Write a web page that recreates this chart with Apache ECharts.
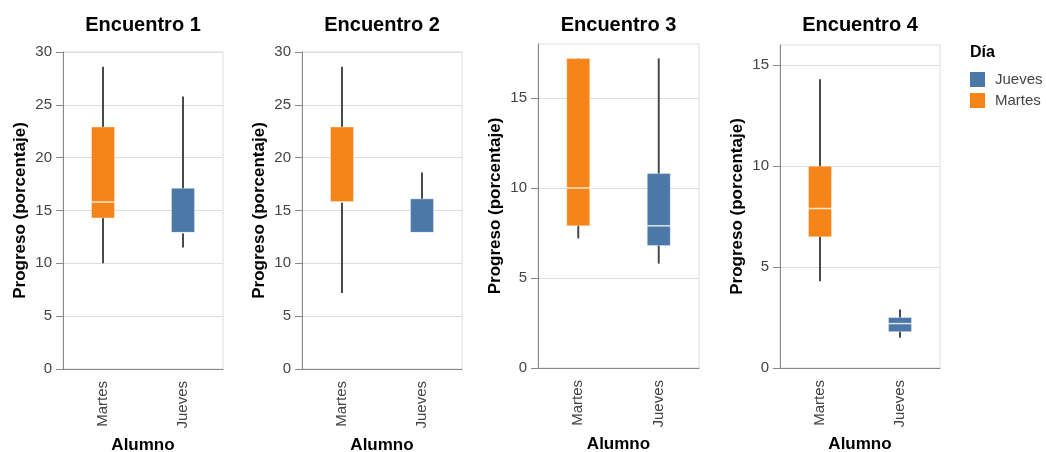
<!DOCTYPE html>
<html>
<head>
<meta charset="utf-8">
<script src="https://cdn.jsdelivr.net/npm/echarts@6/dist/echarts.min.js"></script>
<style>
html,body{margin:0;padding:0;background:#fff;}
#chart{width:1046px;height:452px;}
</style>
</head>
<body>
<div id="chart"></div>
<script>
// ---- Data ----
const encuentros = ['Encuentro 1', 'Encuentro 2', 'Encuentro 3', 'Encuentro 4'];
const categorias = ['Martes', 'Jueves'];
const dias = ['Jueves', 'Martes'];
// [min, Q1, median, Q3, max]
const martesStats = [
  [10.0, 14.3, 15.8, 22.9, 28.6],
  [7.2, 15.8, 15.8, 22.9, 28.6],
  [7.2, 7.9, 10.0, 17.2, 17.2],
  [4.3, 6.5, 7.9, 10.0, 14.3]
];
const juevesStats = [
  [11.5, 12.9, 12.9, 17.1, 25.8],
  [12.9, 12.9, 12.9, 16.1, 18.6],
  [5.8, 6.8, 7.9, 10.8, 17.2],
  [1.5, 1.8, 2.2, 2.5, 2.9]
];
const yMax = [30, 30, 18, 16];
const yTicks = [
  [0, 5, 10, 15, 20, 25, 30],
  [0, 5, 10, 15, 20, 25, 30],
  [0, 5, 10, 15],
  [0, 5, 10, 15]
];

// ---- Layout / style ----
const FONT = 'Liberation Sans, Arial, sans-serif';
const colors = { Martes: '#f58518', Jueves: '#4c78a8' };
const grids = [
  { left: 63, top: 52, width: 160, height: 317 },
  { left: 302, top: 52, width: 160, height: 317 },
  { left: 538, top: 44, width: 161, height: 324 },
  { left: 780, top: 45, width: 160, height: 323 }
];
const BOX_W = 23;

function renderBox(params, api) {
  const x = api.value(0);
  const pMin = api.coord([x, api.value(1)]);
  const pQ1 = api.coord([x, api.value(2)]);
  const pMed = api.coord([x, api.value(3)]);
  const pQ3 = api.coord([x, api.value(4)]);
  const pMax = api.coord([x, api.value(5)]);
  const cx = pMin[0];
  const color = api.visual('color');
  return {
    type: 'group',
    children: [
      { type: 'line', shape: { x1: cx, y1: pMin[1], x2: cx, y2: pMax[1] },
        style: { stroke: '#4a4a4a', lineWidth: 2 } },
      { type: 'rect', shape: { x: cx - BOX_W / 2, y: pQ3[1], width: BOX_W, height: Math.max(pQ1[1] - pQ3[1], 1) },
        style: { fill: color, stroke: 'rgba(255,255,255,0.35)', lineWidth: 1 } },
      { type: 'line', shape: { x1: cx - BOX_W / 2, y1: pMed[1], x2: cx + BOX_W / 2, y2: pMed[1] },
        style: { stroke: 'rgba(255,255,255,0.8)', lineWidth: 1.5 } }
    ]
  };
}

const option = {
  animation: false,
  backgroundColor: '#fff',
  textStyle: { fontFamily: FONT },
  title: encuentros.map((t, i) => ({
    text: t,
    left: grids[i].left + grids[i].width / 2,
    top: 15,
    padding: 0,
    textAlign: 'center',
    textStyle: { fontFamily: FONT, fontSize: 20, fontWeight: 'bold', color: '#000' }
  })).concat([{
    text: 'Día', left: 970, top: 45, padding: 0,
    textStyle: { fontFamily: FONT, fontSize: 16, fontWeight: 'bold', color: '#000' }
  }]),
  legend: {
    data: dias,
    orient: 'vertical',
    left: 970, top: 72,
    icon: 'rect',
    itemWidth: 15, itemHeight: 15, itemGap: 6,
    textStyle: { fontFamily: FONT, fontSize: 15, color: '#444', padding: [0, 0, 0, 5] },
    selectedMode: false,
    padding: 0
  },
  grid: grids.map(g => Object.assign({ show: true, borderColor: '#ddd', borderWidth: 1, backgroundColor: 'transparent', containLabel: false, outerBoundsMode: 'none' }, g)),
  xAxis: encuentros.map((t, i) => ({
    type: 'category',
    gridIndex: i,
    data: categorias,
    name: 'Alumno',
    nameLocation: 'middle',
    nameGap: 67,
    nameTextStyle: { fontFamily: FONT, fontSize: 17, fontWeight: 'bold', color: '#000' },
    axisLine: { lineStyle: { color: '#888', width: 1 } },
    axisTick: { alignWithLabel: true, length: 8, lineStyle: { color: '#888' } },
    axisLabel: { rotate: 90, margin: 12, fontFamily: FONT, fontSize: 15, color: '#444' },
    splitLine: { show: false }
  })),
  yAxis: encuentros.map((t, i) => ({
    type: 'value',
    gridIndex: i,
    min: 0,
    max: yMax[i],
    interval: 5,
    name: 'Progreso (porcentaje)',
    nameLocation: 'middle',
    nameGap: 34,
    nameTextStyle: { fontFamily: FONT, fontSize: 17, fontWeight: 'bold', color: '#000' },
    axisLine: { show: true, lineStyle: { color: '#888', width: 1 } },
    axisTick: { show: true, length: 7, lineStyle: { color: '#888' }, customValues: yTicks[i] },
    axisLabel: { margin: 11, fontFamily: FONT, fontSize: 15, color: '#444', customValues: yTicks[i] },
    splitLine: { lineStyle: { color: '#ddd', width: 1 } }
  })),
  series: []
};

encuentros.forEach((t, i) => {
  option.series.push({
    name: 'Martes', type: 'custom', xAxisIndex: i, yAxisIndex: i,
    itemStyle: { color: colors.Martes },
    encode: { x: 0, y: [1, 2, 3, 4, 5] },
    renderItem: renderBox,
    data: [[0].concat(martesStats[i])]
  });
  option.series.push({
    name: 'Jueves', type: 'custom', xAxisIndex: i, yAxisIndex: i,
    itemStyle: { color: colors.Jueves },
    encode: { x: 0, y: [1, 2, 3, 4, 5] },
    renderItem: renderBox,
    data: [[1].concat(juevesStats[i])]
  });
});

const chart = echarts.init(document.getElementById('chart'), null, { renderer: 'canvas' });
chart.setOption(option);
</script>
</body>
</html>
